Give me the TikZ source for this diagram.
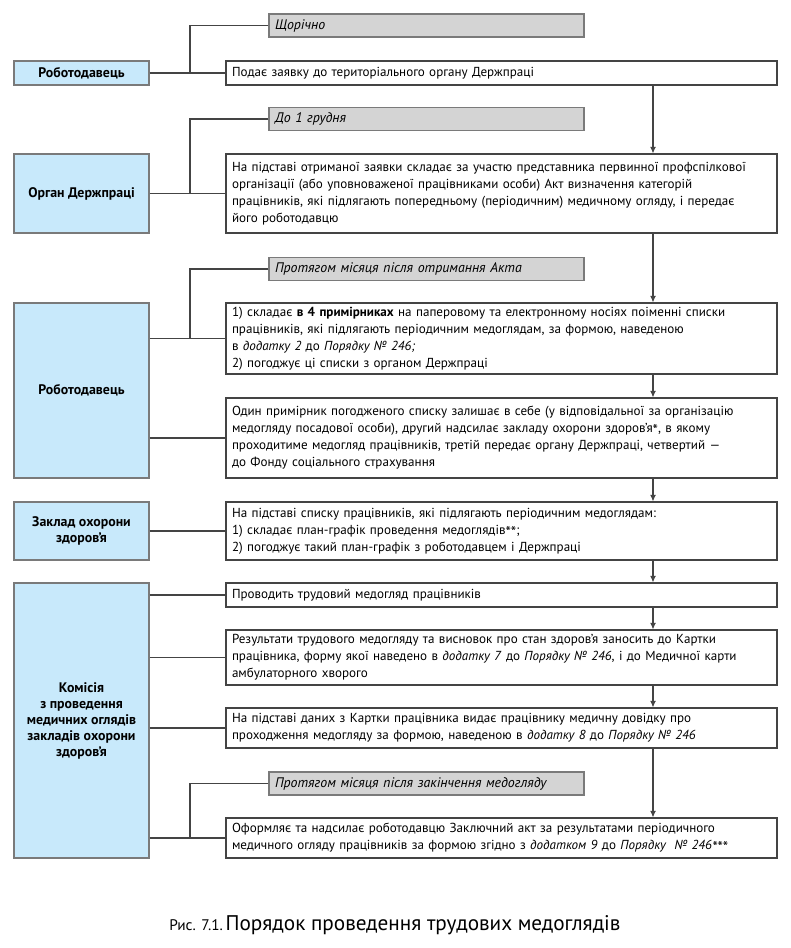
\documentclass[tikz,border=0pt]{standalone}
\usepackage{fontspec}
\setmainfont{PT Sans}
\usetikzlibrary{arrows.meta}
\definecolor{blueF}{HTML}{C8E9FB}
\definecolor{greyF}{HTML}{D4D4D4}
\definecolor{greyD}{HTML}{7A7A7A}
\definecolor{lineC}{HTML}{444444}
\newcommand\myast{\raisebox{-0.22em}{\fontsize{11.5pt}{12pt}\selectfont *}}
\begin{document}
\begin{tikzpicture}[x=0.75pt,y=-0.75pt,
  every node/.style={font=\fontsize{9.8pt}{12.75pt}\selectfont},
  leftbox/.style={draw=greyD,line width=1pt,fill=blueF,minimum width=101.25pt,inner sep=2pt,align=center,font=\fontsize{10.4pt}{12pt}\selectfont\bfseries},
  rightbox/.style={draw=lineC,line width=0.8pt,fill=white,text width=404.25pt,inner xsep=4.5pt,inner ysep=1pt,align=left},
  greybox/.style={draw=greyD,line width=1.1pt,fill=greyF,text width=227.25pt,inner xsep=4.5pt,minimum height=17.25pt,align=left,font=\fontsize{10.4pt}{12pt}\selectfont\itshape},
  conn/.style={draw=lineC,line width=0.8pt},
  arr/.style={draw=lineC,line width=0.8pt,-{Latex[length=5pt,width=4.5pt]}}]
\useasboundingbox (0,0) rectangle (791,948);

% left boxes
\node[leftbox,minimum height=18pt] (L1) at (81.5,73) {Роботодавець};
\node[leftbox,minimum height=59.25pt] (L2) at (81.5,193.5) {Орган Держпраці};
\node[leftbox,minimum height=131.25pt] (L3) at (81.5,390.5) {Роботодавець};
\node[leftbox,minimum height=43.5pt] (L4) at (81.5,531) {Заклад охорони\\здоров’я};
\node[leftbox,minimum height=206.25pt] (L5) at (81.5,720.5) {Комісія\\з проведення\\медичних оглядів\\закладів охорони\\здоров’я};

% grey boxes
\node[greybox] (G1) at (426.5,25.5) {Щорічно};
\node[greybox] (G2) at (426.5,119) {До 1 грудня};
\node[greybox] (G3) at (426.5,269) {Протягом місяця після отримання Акта};
\node[greybox] (G4) at (426.5,783.5) {Протягом місяця після закінчення медогляду};

% right boxes
\node[rightbox,minimum height=18pt] (R1) at (501.5,73) {Подає заявку до територіального органу Держпраці};
\node[rightbox,minimum height=59.25pt] (R2) at (501.5,193.5) {На підставі отриманої заявки складає за участю представника первинної профспілкової\\ організації (або уповноваженої працівниками особи) Акт визначення категорій\\ працівників, які підлягають попередньому (періодичним) медичному огляду, і передає\\ його роботодавцю};
\node[rightbox,minimum height=53.25pt] (R3) at (501.5,338.5) {1) складає \textbf{в 4 примірниках} на паперовому та електронному носіях поіменні списки\\ працівників, які підлягають періодичним медоглядам, за формою, наведеною\\ в \textit{додатку 2} до \textit{Порядку № 246;}\\ 2) погоджує ці списки з органом Держпраці};
\node[rightbox,minimum height=60pt] (R4) at (501.5,438) {Один примірник погодженого списку залишає в себе (у відповідальної за організацію\\ медогляду посадової особи), другий надсилає закладу охорони здоров’я\myast, в якому\\ проходитиме медогляд працівників, третій передає органу Держпраці, четвертий —\\ до Фонду соціального страхування};
\node[rightbox,minimum height=43.5pt] (R5) at (501.5,531) {На підставі списку працівників, які підлягають періодичним медоглядам:\\ 1) складає план-графік проведення медоглядів\myast\myast;\\ 2) погоджує такий план-графік з роботодавцем і Держпраці};
\node[rightbox,minimum height=18pt] (R6) at (501.5,595) {Проводить трудовий медогляд працівників};
\node[rightbox,minimum height=41.25pt] (R7) at (501.5,657.5) {Результати трудового медогляду та висновок про стан здоров’я заносить до Картки\\ працівника, форму якої наведено в \textit{додатку 7} до \textit{Порядку № 246}, і до Медичної карти\\ амбулаторного хворого};
\node[rightbox,minimum height=30pt] (R8) at (501.5,728) {На підставі даних з Картки працівника видає працівнику медичну довідку про\\ проходження медогляду за формою, наведеною в \textit{додатку 8} до \textit{Порядку № 246}};
\node[rightbox,minimum height=30pt] (R9) at (501.5,838) {Оформляє та надсилає роботодавцю Заключний акт за результатами періодичного\\ медичного огляду працівників за формою згідно з \textit{додатком 9} до \textit{Порядку~ № 246\myast\myast\myast}};

% junction coordinates
\coordinate (J1) at (190,73);
\coordinate (J2) at (190,193.5);
\coordinate (J3) at (190,338.5);
\coordinate (J9) at (190,838);
\coordinate (AX) at (653,0);

% connectors left -> right
\draw[conn] (L1.east) -- (R1.west);
\draw[conn] (L2.east) -- (R2.west);
\draw[conn] (R3.west -| L3.east) -- (R3.west);
\draw[conn] (R4.west -| L3.east) -- (R4.west);
\draw[conn] (L4.east) -- (R5.west);
\draw[conn] (R6.west -| L5.east) -- (R6.west);
\draw[conn] (R7.west -| L5.east) -- (R7.west);
\draw[conn] (R8.west -| L5.east) -- (R8.west);
\draw[conn] (R9.west -| L5.east) -- (R9.west);

% brackets to grey boxes
\draw[conn] (G1.west) -| (J1);
\draw[conn] (G2.west) -| (J2);
\draw[conn] (G3.west) -| (J3);
\draw[conn] (G4.west) -| (J9);

% arrows
\draw[arr] (R1.south -| AX) -- (R2.north -| AX);
\draw[arr] (R2.south -| AX) -- (R3.north -| AX);
\draw[arr] (R3.south -| AX) -- (R4.north -| AX);
\draw[arr] (R4.south -| AX) -- (R5.north -| AX);
\draw[arr] (R5.south -| AX) -- (R6.north -| AX);
\draw[arr] (R6.south -| AX) -- (R7.north -| AX);
\draw[arr] (R7.south -| AX) -- (R8.north -| AX);
\draw[arr] (R8.south -| AX) -- (R9.north -| AX);

% caption
\node[anchor=base west,inner sep=0pt] (CAP) at (169,930) {{\fontsize{11.5pt}{13pt}\selectfont Рис. 7.1.}\kern2pt{\fontsize{15.9pt}{18pt}\selectfont Порядок проведення трудових медоглядів}};
\end{tikzpicture}
\end{document}
